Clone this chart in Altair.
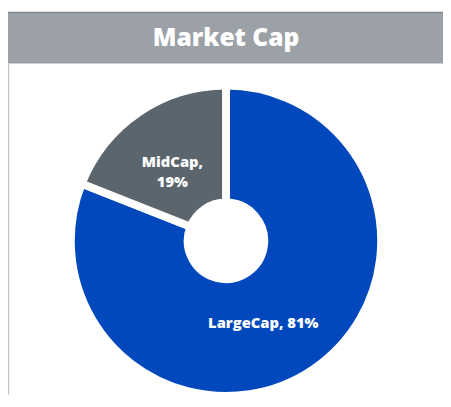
import altair as alt
import pandas as pd

categories = ["LargeCap", "MidCap"]
values = [81, 19]
labels = ["LargeCap, 81%", "MidCap,\n19%"]
colors = ["#0048BC", "#5B656D"]
title_text = "Market Cap"

df = pd.DataFrame({"category": categories, "value": values, "label": labels, "order": [0, 1]})

W, H = 443, 390
cx, cy = 222, 233.5

base = alt.Chart(df).encode(
    theta=alt.Theta("value:Q", stack=True),
    order=alt.Order("order:Q"),
)

arcs = base.mark_arc(outerRadius=158, innerRadius=39, stroke="white", strokeWidth=8).encode(
    color=alt.Color("category:N", scale=alt.Scale(domain=categories, range=colors), legend=None),
    x=alt.value(cx), y=alt.value(cy),
)

txt_style = dict(font="Open Sans", fontWeight=800, fontSize=15, color="white",
                 lineBreak="\n", lineHeight=20)

text_mid = base.mark_text(radius=97, **txt_style).encode(
    text="label:N", x=alt.value(cx), y=alt.value(cy),
    opacity=alt.condition(alt.datum.category == "MidCap", alt.value(1), alt.value(0)),
)
text_large = base.mark_text(radius=89, dx=-12, dy=10, **txt_style).encode(
    text="label:N", x=alt.value(cx), y=alt.value(cy),
    opacity=alt.condition(alt.datum.category == "LargeCap", alt.value(1), alt.value(0)),
)

hdr = pd.DataFrame({"t": [title_text]})
header = alt.Chart(hdr).mark_rect(color="#9BA1A7").encode(
    x=alt.value(0), x2=alt.value(W), y=alt.value(1), y2=alt.value(53))
topline = alt.Chart(hdr).mark_rule(color="#80868c", strokeWidth=1.5).encode(
    x=alt.value(0), x2=alt.value(W), y=alt.value(1))
leftline = alt.Chart(hdr).mark_rule(color="#c4c7ca", strokeWidth=1.5).encode(
    x=alt.value(0.5), y=alt.value(53), y2=alt.value(H))
title = alt.Chart(hdr).mark_text(font="Open Sans", fontWeight=800, fontSize=25, color="white").encode(
    text="t:N", x=alt.value(cx), y=alt.value(27))

chart = alt.layer(header, topline, leftline, title, arcs, text_mid, text_large).properties(
    width=W, height=H, padding=0, autosize=alt.AutoSizeParams(type="none")
).configure_view(stroke=None)

chart.save("out.html", embed_options={"renderer": "svg", "actions": False})
